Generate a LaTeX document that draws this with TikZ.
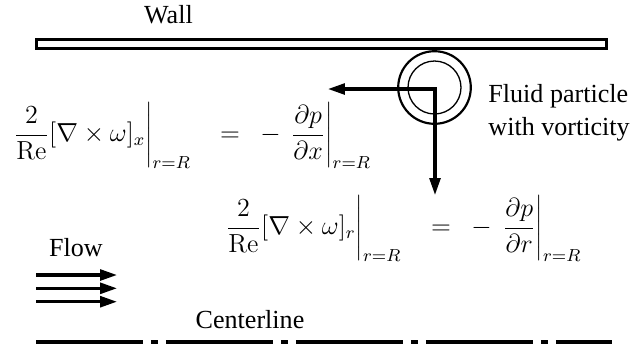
\documentclass[tikz,border=0pt]{standalone}
\usepackage[no-math]{fontspec}
\setmainfont{Liberation Serif}
\usetikzlibrary{arrows.meta}
\tikzset{
  lbl/.style={inner sep=0pt, font=\fontsize{12}{14.5}\selectfont},
  thickline/.style={line width=1.4pt},
  barr/.style={thickline, {Triangle[length=7.8pt,width=5pt]}-{Triangle[length=7.8pt,width=5pt]}},
}
\begin{document}
\begin{tikzpicture}[x=0.46pt,y=-0.46pt]
\useasboundingbox (0,0) rectangle (631,347);
% wall
\node[lbl, anchor=base] (wall) at (168.5,23) {Wall};
\draw[thickline] (36.5,39.5) rectangle (606.5,48.5);
% particle
\coordinate (pc) at (434.5,87.5);
\draw[line width=1pt] (pc) circle[radius=36.3];
\draw[line width=0.6pt] (pc) circle[radius=26.5];
\node[lbl, anchor=base west] (fp1) at (488,102) {Fluid particle};
\node[lbl, anchor=base west] (fp2) at (488,135) {with vorticity};
% arrows
\coordinate (corner) at (435,89);
\coordinate (tipx) at (328,89);
\coordinate (tipr) at (435,195);
\draw[barr, line join=miter] (tipx) -- (corner) -- (tipr);
% equation 1
\node[lbl, anchor=base west] (lhsx) at (13.4,141.5) {$\displaystyle\frac{2}{\mathrm{Re}}[\nabla\times\omega]_x\Bigg|_{r=R}$};
\node[lbl, anchor=base] (eqx) at (230,141.5) {$=$};
\node[lbl, anchor=base] (mix) at (270.5,141.5) {$-$};
\node[lbl, anchor=base west] (rhsx) at (290.4,141.5) {$\displaystyle\frac{\partial p}{\partial x}\Bigg|_{r=R}$};
% equation 2
\node[lbl, anchor=base west] (lhsr) at (225.4,234.5) {$\displaystyle\frac{2}{\mathrm{Re}}[\nabla\times\omega]_r\Bigg|_{r=R}$};
\node[lbl, anchor=base] (eqr) at (441,234.5) {$=$};
\node[lbl, anchor=base] (mir) at (481.5,234.5) {$-$};
\node[lbl, anchor=base west] (rhsr) at (502.4,234.5) {$\displaystyle\frac{\partial p}{\partial r}\Bigg|_{r=R}$};
% flow
\node[lbl, anchor=base] (flow) at (76,256) {Flow};
\foreach \yy/\nm in {275/a,288.3/b,301.7/c}{
  \coordinate (fs\nm) at (36,\yy);
  \coordinate (fe\nm) at (117,\yy);
  \draw[thickline, -{Triangle[length=7.8pt,width=5pt]}] (fs\nm) -- (fe\nm);
}
% centerline
\node[lbl, anchor=base] (cl) at (250,328) {Centerline};
\coordinate (cls) at (36,342);
\coordinate (cle) at (612,342);
\draw[thickline, dash pattern=on 49.2pt off 3.68pt on 3.22pt off 3.68pt] (cls) -- (cle);
\end{tikzpicture}
\end{document}
